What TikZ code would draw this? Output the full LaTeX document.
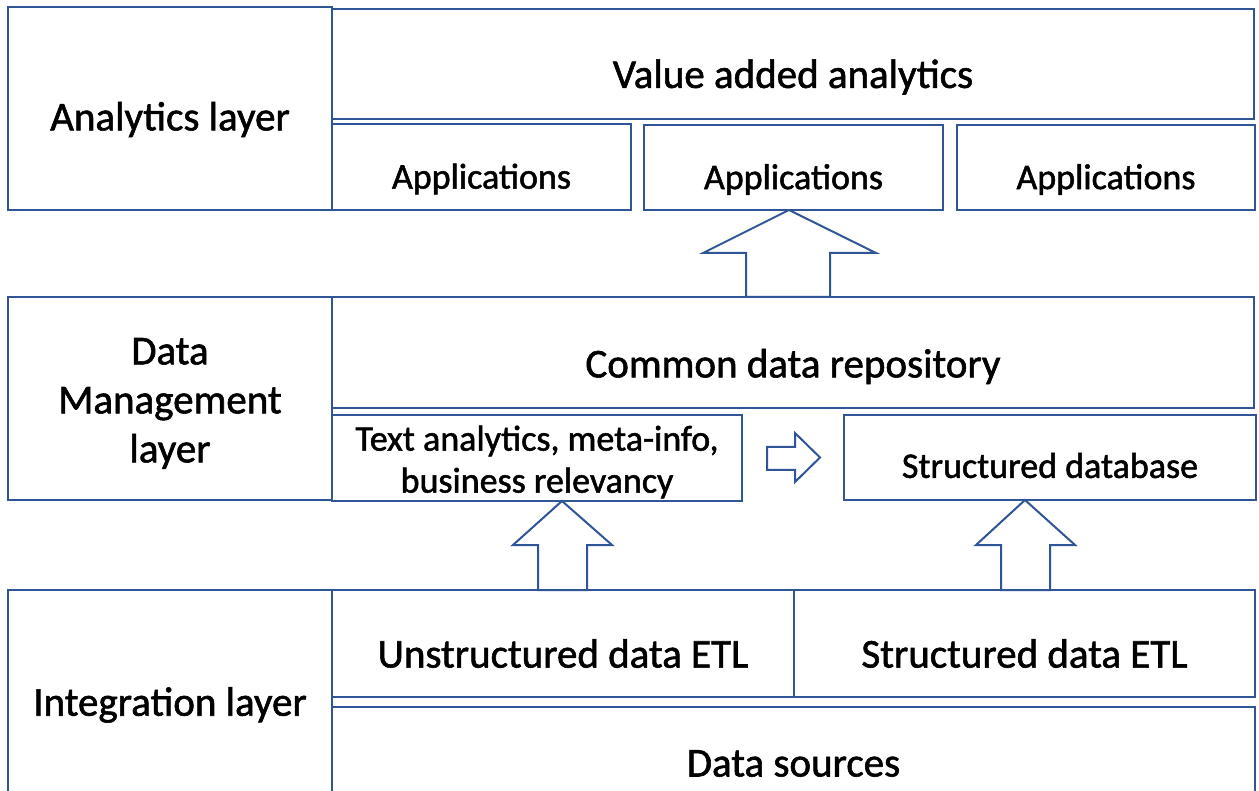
\documentclass[tikz,border=0pt]{standalone}
\usepackage{fontspec}
\setmainfont{Carlito}[BoldFont=Carlito, BoldFeatures={FakeBold=1.4}]
\definecolor{edge}{HTML}{2F5597}
\tikzset{
  box/.style={draw=edge, line width=2pt, fill=white, inner sep=0pt, outer sep=0pt,
              anchor=north west},
  boxtext/.style={align=center, text=black, inner sep=0pt},
  big/.style={font=\fontsize{41}{49}\selectfont\bfseries},
  mid/.style={font=\fontsize{36}{42}\selectfont\bfseries},
  blockarrow/.style={draw=edge, line width=2pt, fill=white, line join=miter},
}
% name, x1, y1, x2, y2, text style, downward shift of the text, text
\newcommand{\bx}[8]{%
  \node[box, minimum width={(#4-#2)*1pt}, minimum height={(#5-#3)*1pt}] (#1) at (#2,#3) {};
  \node[boxtext, #6, yshift=-#7pt] at (#1.center) {#8};}
\begin{document}
\begin{tikzpicture}[x=1pt, y=-1pt]
\useasboundingbox (0,0) rectangle (1259,791);
\clip (0,0) rectangle (1259,791);

% Analytics layer
\bx{anl}{8}{7}{332}{210}{big}{11}{Analytics layer}
\bx{vaa}{332}{9}{1254}{119}{big}{13}{Value added analytics}
\bx{appA}{332}{124}{631}{210}{mid}{12}{Applications}
\bx{appB}{644}{125}{943}{210}{mid}{12}{Applications}
\bx{appC}{957}{125}{1255}{210}{mid}{12}{Applications}

% Data management layer
\bx{dml}{8}{297}{332}{500}{big}{5}{Data\\Management\\layer}
\bx{cdr}{332}{297}{1254}{408}{big}{14}{Common data repository}
\bx{txt}{332}{415}{742}{501}{mid}{4}{Text analytics, meta-info,\\business relevancy}
\bx{sdb}{844}{415}{1256}{500}{mid}{8}{Structured database}

% Integration layer
\bx{intl}{8}{590}{332}{820}{big}{0}{Integration layer}
\bx{uetl}{332}{590}{794}{697}{big}{10}{Unstructured data ETL}
\bx{setl}{794}{590}{1255}{697}{big}{10}{Structured data ETL}
\bx{dsrc}{332}{707}{1255}{820}{big}{0}{Data sources}

% block arrows between layers
\draw[blockarrow] (appB.south -| 789,0) -- (876,253) -- (830,253) -- (cdr.north -| 830,0)
  -- (cdr.north -| 746,0) -- (746,253) -- (703,253) -- cycle;
\draw[blockarrow] (txt.south -| 562,0) -- (612,545) -- (587,545) -- (uetl.north -| 587,0)
  -- (uetl.north -| 538,0) -- (538,545) -- (513,545) -- cycle;
\draw[blockarrow] (sdb.south -| 1025,0) -- (1075,545) -- (1050,545) -- (setl.north -| 1050,0)
  -- (setl.north -| 1001,0) -- (1001,545) -- (976,545) -- cycle;
% small arrow from text analytics towards the structured database
\draw[blockarrow] (767,447) -- (795,447) -- (795,433) -- (820,457.5) -- (795,482)
  -- (795,470) -- (767,470) -- cycle;
\end{tikzpicture}
\end{document}
